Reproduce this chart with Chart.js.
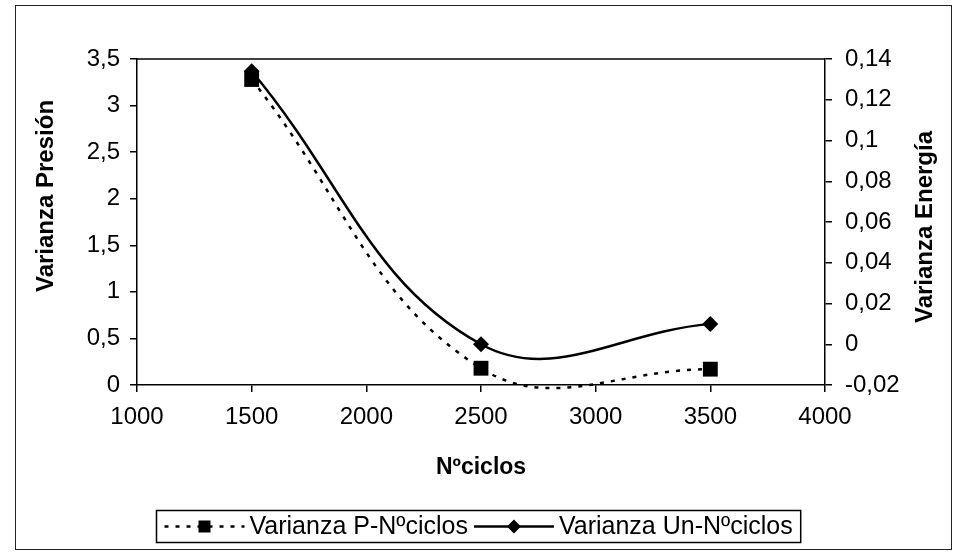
<!DOCTYPE html>
<html>
<head>
<meta charset="utf-8">
<script src="https://cdn.jsdelivr.net/npm/chart.js@4/dist/chart.umd.min.js"></script>
<style>
  html, body { margin: 0; padding: 0; background: #fff; }
  #wrap { width: 959px; height: 555px; }
</style>
</head>
<body>
<div id="wrap"><canvas id="grafico" width="959" height="555"></canvas></div>
<script>
// Datos: varianza frente al número de ciclos
const ciclos = [1500, 2500, 3500];
const varianzaP = [3.28, 0.18, 0.17];
const varianzaUn = [0.134, 0.0, 0.01];

// Marcas de los ejes
const ticksCiclos = [1000, 1500, 2000, 2500, 3000, 3500, 4000];
const ticksPresion = [0, 0.5, 1, 1.5, 2, 2.5, 3, 3.5];
const ticksEnergia = [-0.02, 0, 0.02, 0.04, 0.06, 0.08, 0.1, 0.12, 0.14];

const FUENTE = '"Liberation Sans", Arial, sans-serif';

// 0.5 -> "0,5"
const coma = v => String(+Number(v).toFixed(3)).replace('.', ',');

const ejeComun = {
    border: { display: true, color: '#000', width: 1.5 },
    grid: { drawOnChartArea: false, drawTicks: true, tickLength: 7, color: '#000', lineWidth: 1.5 },
    ticks: { color: '#000', font: { family: FUENTE, size: 24 } }
};

function tituloVertical(ctx, texto, x, y) {
    ctx.save();
    ctx.fillStyle = '#000';
    ctx.font = 'bold 24px ' + FUENTE;
    ctx.textAlign = 'center';
    ctx.textBaseline = 'middle';
    ctx.translate(x, y);
    ctx.rotate(-Math.PI / 2);
    ctx.fillText(texto, 0, 0);
    ctx.restore();
}

// Marco, borde superior del área de trazado, títulos verticales y leyenda
const extras = {
    id: 'extras',
    beforeDraw(chart) {
        const ctx = chart.ctx;
        ctx.save();
        ctx.strokeStyle = '#222';
        ctx.lineWidth = 1;
        ctx.strokeRect(15.5, 5.5, 936, 544);
        ctx.restore();
    },
    afterDraw(chart) {
        const ctx = chart.ctx;
        const a = chart.chartArea;
        ctx.save();
        ctx.strokeStyle = '#000';
        ctx.lineWidth = 1.5;
        ctx.beginPath();
        ctx.moveTo(a.left, a.top);
        ctx.lineTo(a.right, a.top);
        ctx.stroke();
        ctx.restore();

        tituloVertical(ctx, 'Varianza Presión', 46, 196);
        tituloVertical(ctx, 'Varianza Energía', 925, 227);

        // leyenda centrada bajo el gráfico
        ctx.save();
        ctx.font = '25px ' + FUENTE;
        ctx.textBaseline = 'middle';
        const muestra = 80;
        const anchos = chart.data.datasets.map(ds => ctx.measureText(ds.label).width);
        const ancho = 8 + anchos.reduce((s, w) => s + muestra + 5 + w + 6, 0) + 2;
        const x0 = Math.round(478 - ancho / 2) + 0.5, y0 = 510.5, alto = 32, cy = y0 + alto / 2;
        ctx.fillStyle = '#fff';
        ctx.fillRect(x0, y0, ancho, alto);
        ctx.strokeStyle = '#000';
        ctx.lineWidth = 1.5;
        ctx.strokeRect(x0, y0, ancho, alto);
        let x = x0 + 8;
        chart.data.datasets.forEach((ds, i) => {
            ctx.strokeStyle = '#000';
            ctx.lineWidth = ds.borderWidth;
            ctx.setLineDash(ds.borderDash || []);
            ctx.beginPath();
            ctx.moveTo(x, cy);
            ctx.lineTo(x + muestra, cy);
            ctx.stroke();
            ctx.setLineDash([]);
            ctx.fillStyle = '#000';
            ctx.beginPath();
            const cx = x + muestra / 2;
            if (ds.pointStyle === 'rect') {
                ctx.rect(cx - 6, cy - 6, 12, 12);
            } else {
                ctx.moveTo(cx, cy - 7);
                ctx.lineTo(cx + 7, cy);
                ctx.lineTo(cx, cy + 7);
                ctx.lineTo(cx - 7, cy);
                ctx.closePath();
            }
            ctx.fill();
            ctx.fillText(ds.label, x + muestra + 5, cy + 1);
            x += muestra + 5 + anchos[i] + 6;
        });
        ctx.restore();
    }
};

new Chart(document.getElementById('grafico'), {
    type: 'line',
    data: {
        datasets: [{
            label: 'Varianza P-Nºciclos',
            data: ciclos.map((c, i) => ({ x: c, y: varianzaP[i] })),
            yAxisID: 'y',
            borderColor: '#000',
            backgroundColor: '#000',
            borderWidth: 2.5,
            borderDash: [4, 7],
            tension: 0.4,
            pointStyle: 'rect',
            pointRadius: 10.5,
            pointBorderWidth: 0,
            clip: { left: 0, top: 0, right: 0, bottom: 5 }
        }, {
            label: 'Varianza Un-Nºciclos',
            data: ciclos.map((c, i) => ({ x: c, y: varianzaUn[i] })),
            yAxisID: 'y1',
            borderColor: '#000',
            backgroundColor: '#000',
            borderWidth: 2.5,
            tension: 0.4,
            pointStyle: 'rectRot',
            pointRadius: 8,
            pointBorderWidth: 0
        }]
    },
    options: {
        responsive: false,
        animation: false,
        layout: { padding: { left: 16, right: 10, top: 59, bottom: 72 } },
        elements: { line: { capBezierPoints: false } },
        plugins: { legend: { display: false }, tooltip: { enabled: false } },
        scales: {
            x: {
                ...ejeComun,
                type: 'linear',
                min: 1000,
                max: 4000,
                afterBuildTicks: s => { s.ticks = ticksCiclos.map(v => ({ value: v })); },
                afterFit: s => { s.height = 98; },
                ticks: { ...ejeComun.ticks, padding: 11, maxRotation: 0, callback: v => String(v) },
                title: { display: true, text: 'Nºciclos', color: '#000',
                         font: { family: FUENTE, size: 23, weight: 'bold' }, padding: { top: 0, bottom: 2 } }
            },
            y: {
                ...ejeComun,
                position: 'left',
                min: 0,
                max: 3.5,
                afterBuildTicks: s => { s.ticks = ticksPresion.map(v => ({ value: v })); },
                afterFit: s => { s.width = 121; },
                ticks: { ...ejeComun.ticks, padding: 10, callback: coma }
            },
            y1: {
                ...ejeComun,
                position: 'right',
                min: -0.02,
                max: 0.14,
                afterBuildTicks: s => { s.ticks = ticksEnergia.map(v => ({ value: v })); },
                afterFit: s => { s.width = 124; },
                ticks: { ...ejeComun.ticks, padding: 13, callback: coma }
            }
        }
    },
    plugins: [extras]
});
</script>
</body>
</html>
